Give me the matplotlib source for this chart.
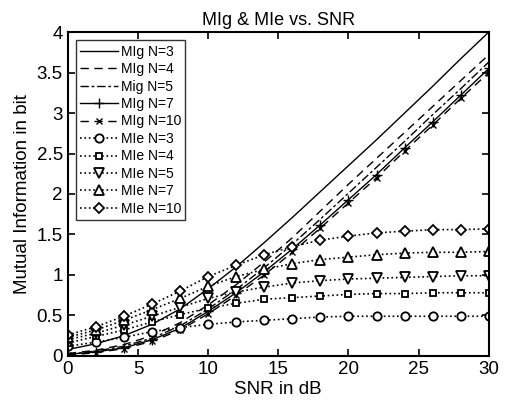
import numpy as np
import matplotlib
matplotlib.use('Agg')
import matplotlib.pyplot as plt

snr = [0, 2, 4, 6, 8, 10, 12, 14, 16, 18, 20, 22, 24, 26, 28, 30]

# MIg curves
mig3 = [0.08, 0.15, 0.25, 0.39, 0.58, 0.83, 1.10, 1.40, 1.71, 2.03, 2.35, 2.67, 3.00, 3.33, 3.67, 4.00]
mig4 = [0.03, 0.07, 0.14, 0.25, 0.41, 0.63, 0.88, 1.16, 1.46, 1.79, 2.12, 2.44, 2.76, 3.08, 3.40, 3.72]
mig5 = [0.02, 0.06, 0.12, 0.22, 0.37, 0.58, 0.82, 1.09, 1.38, 1.69, 2.01, 2.33, 2.65, 2.98, 3.30, 3.63]
mig7 = [0.02, 0.05, 0.10, 0.20, 0.34, 0.55, 0.78, 1.04, 1.32, 1.62, 1.93, 2.24, 2.57, 2.89, 3.22, 3.55]
mig10 = [0.01, 0.04, 0.09, 0.18, 0.32, 0.52, 0.75, 1.00, 1.28, 1.58, 1.89, 2.20, 2.53, 2.85, 3.18, 3.50]

# MIe curves
mie3 = [0.12, 0.17, 0.23, 0.30, 0.35, 0.39, 0.42, 0.44, 0.46, 0.48, 0.49, 0.49, 0.49, 0.49, 0.49, 0.49]
mie4 = [0.16, 0.24, 0.32, 0.42, 0.51, 0.59, 0.65, 0.70, 0.72, 0.74, 0.76, 0.77, 0.77, 0.78, 0.78, 0.78]
mie5 = [0.20, 0.28, 0.38, 0.49, 0.60, 0.71, 0.79, 0.85, 0.90, 0.93, 0.95, 0.96, 0.97, 0.98, 0.99, 0.99]
mie7 = [0.23, 0.32, 0.44, 0.57, 0.71, 0.86, 0.98, 1.07, 1.14, 1.19, 1.22, 1.25, 1.27, 1.28, 1.28, 1.29]
mie10 = [0.26, 0.36, 0.49, 0.64, 0.80, 0.98, 1.12, 1.25, 1.35, 1.43, 1.48, 1.52, 1.54, 1.56, 1.56, 1.57]

plt.rcParams['font.family'] = ['Liberation Sans', 'DejaVu Sans']

fig = plt.figure(figsize=(5.06, 4.11), dpi=100)
ax = fig.add_axes([0.134, 0.134, 0.832, 0.788])

k = dict(color='black', linewidth=1.0)
ax.plot(snr, mig3, '-', label='MIg N=3', **k)
ax.plot(snr, mig4, '--', dashes=(6, 4), label='MIg N=4', **k)
ax.plot(snr, mig5, '-.', dashes=(6, 2, 2, 2), label='Mig N=5', **k)
ax.plot(snr, mig7, '-', marker='+', markersize=7, label='MIg N=7', **k)
ax.plot(snr, mig10, '--', dashes=(6, 4), marker='x', markersize=5, label='MIg N=10', **k)

mk = dict(color='black', linewidth=1.2, linestyle=':', markerfacecolor='white',
          markeredgecolor='black', markeredgewidth=1.3)
ax.plot(snr, mie3, marker='o', markersize=6, label='MIe N=3', **mk)
ax.plot(snr, mie4, marker='s', markersize=5, label='MIe N=4', **mk)
ax.plot(snr, mie5, marker='v', markersize=7, label='MIe N=5', **mk)
ax.plot(snr, mie7, marker='^', markersize=7, label='MIe N=7', **mk)
ax.plot(snr, mie10, marker='D', markersize=5, label='MIe N=10', **mk)

ax.set_xlim(0, 30)
ax.set_ylim(0, 4)
ax.set_xticks([0, 5, 10, 15, 20, 25, 30])
ax.set_yticks([0, 0.5, 1, 1.5, 2, 2.5, 3, 3.5, 4])
ax.set_yticklabels(['0', '0.5', '1', '1.5', '2', '2.5', '3', '3.5', '4'])
ax.tick_params(direction='in', top=True, right=True, labelsize=13.5, length=5, width=1.2)
for s in ax.spines.values():
    s.set_linewidth(1.5)

ax.set_xlabel('SNR in dB', fontsize=13.5, labelpad=2)
ax.set_ylabel('Mutual Information in bit', fontsize=13.5, labelpad=4)
ax.set_title('MIg & MIe vs. SNR', fontsize=13, pad=5)

leg = ax.legend(loc='upper left', fontsize=10, frameon=True, fancybox=False,
                edgecolor='black', handlelength=2.7, handletextpad=0.2,
                labelspacing=0.25, borderpad=0.3, borderaxespad=0.6)
leg.get_frame().set_linewidth(1.0)

fig.savefig('out.png', dpi=100)
